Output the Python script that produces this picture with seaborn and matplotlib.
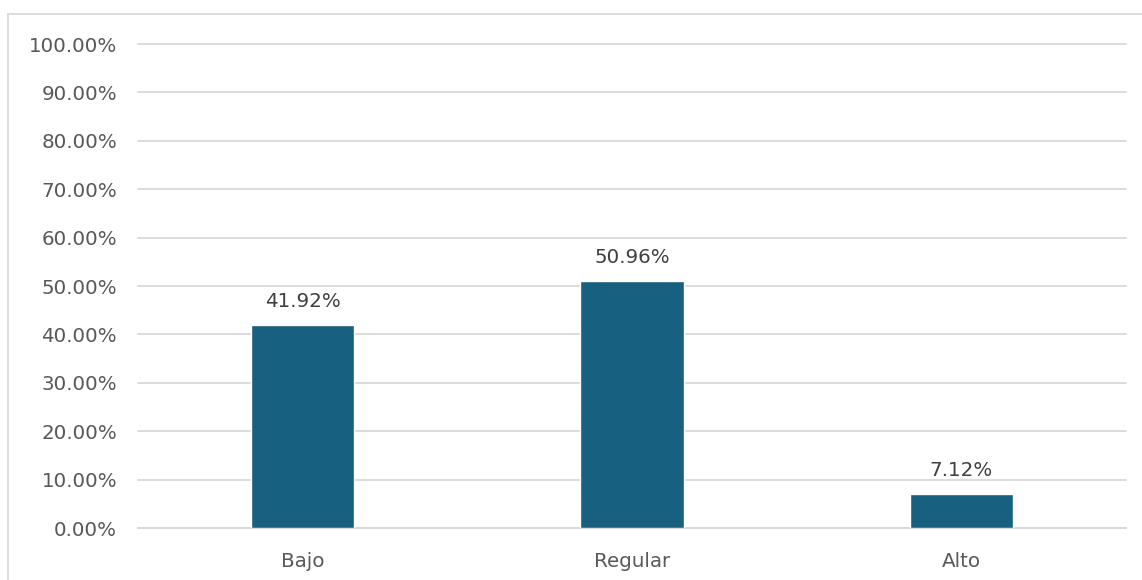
import matplotlib
matplotlib.use("Agg")
import matplotlib.pyplot as plt
import seaborn as sns
import pandas as pd
from matplotlib.patches import Rectangle
from matplotlib.ticker import MultipleLocator, FuncFormatter

categories = ["Bajo", "Regular", "Alto"]
values = [0.4192, 0.5096, 0.0712]
labels = ["41.92%", "50.96%", "7.12%"]

sns.set_theme(style="white")
plt.rcParams['font.family'] = ['DejaVu Sans']

W, H = 1142, 580
fig = plt.figure(figsize=(W / 100, H / 100), dpi=100)
ax = fig.add_axes([138 / W, 1 - 528 / H, (1126 - 138) / W, (528 - 44) / H])

df = pd.DataFrame({"cat": categories, "val": values})
sns.barplot(data=df, x="cat", y="val", color="#17607F", width=0.313,
            saturation=1, ax=ax, zorder=3)

ax.set_ylim(0, 1.0)
ax.set_xlim(-0.5, 2.5)
ax.yaxis.set_major_locator(MultipleLocator(0.1))
ax.yaxis.set_major_formatter(FuncFormatter(lambda v, p: f"{v*100:.2f}%"))
ax.grid(axis="y", color="#D9D9D9", linewidth=1.3, zorder=0)
for gl in ax.get_ygridlines():
    gl.set_clip_on(False)
ax.grid(axis="x", visible=False)
for s in ["top", "right", "left"]:
    ax.spines[s].set_visible(False)
ax.spines["bottom"].set_color("#D9D9D9")
ax.spines["bottom"].set_linewidth(1.3)
ax.set_xlabel("")
ax.set_ylabel("")
ax.tick_params(axis="both", length=0, labelsize=14.3, labelcolor="#595959")
ax.tick_params(axis="y", pad=15)
ax.tick_params(axis="x", pad=17)

for i, (v, t) in enumerate(zip(values, labels)):
    ax.annotate(t, (i, v), xytext=(0, 10), textcoords="offset points",
                ha="center", va="bottom", fontsize=14.3, color="#404040")

fig.patches.append(Rectangle((8 / W, -0.1), 1.2, 1 - 14 / H + 0.1,
                             transform=fig.transFigure, fill=False,
                             edgecolor="#D9D9D9", linewidth=1.3))

fig.savefig("out.png", dpi=100, facecolor="white")
